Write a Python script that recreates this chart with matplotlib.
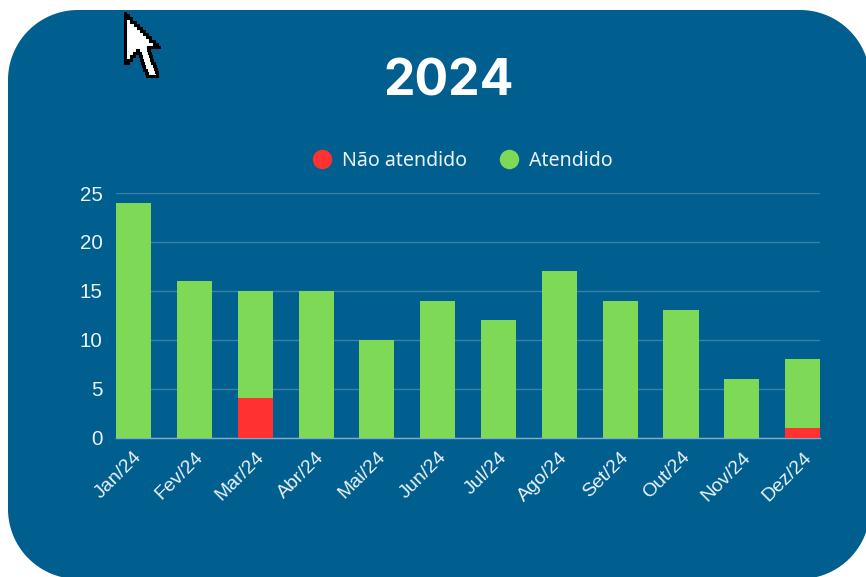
import numpy as np
import matplotlib
matplotlib.use("Agg")
import matplotlib.pyplot as plt
from matplotlib.patches import Polygon
from matplotlib.lines import Line2D

months = ["Jan/24", "Fev/24", "Mar/24", "Abr/24", "Mai/24", "Jun/24",
          "Jul/24", "Ago/24", "Set/24", "Out/24", "Nov/24", "Dez/24"]
nao_atendido = [0, 0, 4, 0, 0, 0, 0, 0, 0, 0, 0, 1]
atendido = [24, 16, 11, 15, 10, 14, 12, 17, 14, 13, 6, 7]
yticks = [0, 5, 10, 15, 20, 25]
title = "2024"

W, H = 866, 577
BLUE, GREEN, RED = "#015F8F", "#7ED957", "#FF3131"
TXT = "#EAF3F8"

fig = plt.figure(figsize=(W / 100, H / 100), dpi=100, facecolor="white")


def rounded_panel(x0, y0, x1, y1, r):
    pts = []
    corners = [(x1 - r, y0 + r, -90), (x1 - r, y1 - r, 0), (x0 + r, y1 - r, 90), (x0 + r, y0 + r, 180)]
    for cx, cy, a0 in corners:
        t = np.radians(np.linspace(a0, a0 + 90, 60))
        pts += list(zip(cx + r * np.cos(t), cy + r * np.sin(t)))
    return pts


def staircase(verts, step=3):
    out = []
    n = len(verts)
    for i in range(n):
        (xa, ya), (xb, yb) = verts[i], verts[(i + 1) % n]
        out.append((xa, ya))
        if xa != xb and ya != yb:
            k = max(1, int(max(abs(xb - xa), abs(yb - ya)) / step))
            for j in range(1, k):
                xs = round(xa + (xb - xa) * j / k)
                ys = round(ya + (yb - ya) * j / k)
                out.append((xs, out[-1][1]))
                out.append((xs, ys))
            out.append((xb, out[-1][1]))
    return out


# background layer in pixel coordinates
bg = fig.add_axes([0, 0, 1, 1], zorder=0)
bg.set_xlim(0, W); bg.set_ylim(H, 0); bg.axis("off")
bg.add_patch(Polygon(rounded_panel(8, 10, 870, 579, 70), closed=True, fc=BLUE, ec="none"))

# chart
left, right, top, bottom = 116.5, 820, 193, 437.5
ax = fig.add_axes([left / W, 1 - bottom / H, (right - left) / W, (bottom - top) / H], zorder=1)
ax.patch.set_alpha(0)
x = list(range(len(months)))
ax.bar(x, nao_atendido, width=0.576, color=RED, zorder=3)
ax.bar(x, atendido, width=0.576, bottom=nao_atendido, color=GREEN, zorder=3)
ax.set_xlim(-0.28, 11.285)
ax.set_ylim(0, 25)
ax.set_yticks(yticks)
ax.set_xticks(x)
ax.set_xticklabels(months, rotation=45, ha="right", va="top", rotation_mode="anchor",
                   fontsize=14, color=TXT, family="Liberation Sans")
for lab in ax.get_yticklabels():
    lab.set_fontsize(14.8); lab.set_color(TXT); lab.set_family("Liberation Sans")
ax.tick_params(axis="x", length=0, pad=8)
ax.tick_params(axis="y", length=0, pad=10)
ax.grid(axis="y", color="#FFFFFF", alpha=0.22, lw=1, zorder=1)
ax.set_axisbelow(True)
for s in ["top", "right", "left"]:
    ax.spines[s].set_visible(False)
ax.spines["bottom"].set_color("#7FAECB")
ax.spines["bottom"].set_linewidth(1)

# title and legend
bg.text(449, 82, title, ha="center", va="center", fontsize=36, fontweight="bold",
        color="white", family="Inter")
handles = [Line2D([], [], ls="", marker="o", ms=14, color=RED, mec="none"),
           Line2D([], [], ls="", marker="o", ms=14, color=GREEN, mec="none")]
leg = fig.legend(handles, ["Não atendido", "Atendido"], loc="center",
                 bbox_to_anchor=(460 / W, 1 - 161 / H), ncol=2, frameon=False,
                 prop={"family": "Noto Sans", "size": 14.1}, labelcolor=TXT,
                 handletextpad=0.25, columnspacing=1.4, handlelength=1.5)

# mouse cursor in the reference
cursor = [(125, 12), (125, 63), (137, 50), (147, 76), (155, 76), (157, 72), (148, 47), (160, 47)]
top_layer = fig.add_axes([0, 0, 1, 1], zorder=3)
top_layer.set_xlim(0, W); top_layer.set_ylim(H, 0); top_layer.axis("off")
top_layer.add_patch(Polygon(staircase(cursor), closed=True, fc="white", ec="black", lw=2.2,
                            joinstyle="miter"))

fig.savefig("out.png", dpi=100, facecolor="white")
